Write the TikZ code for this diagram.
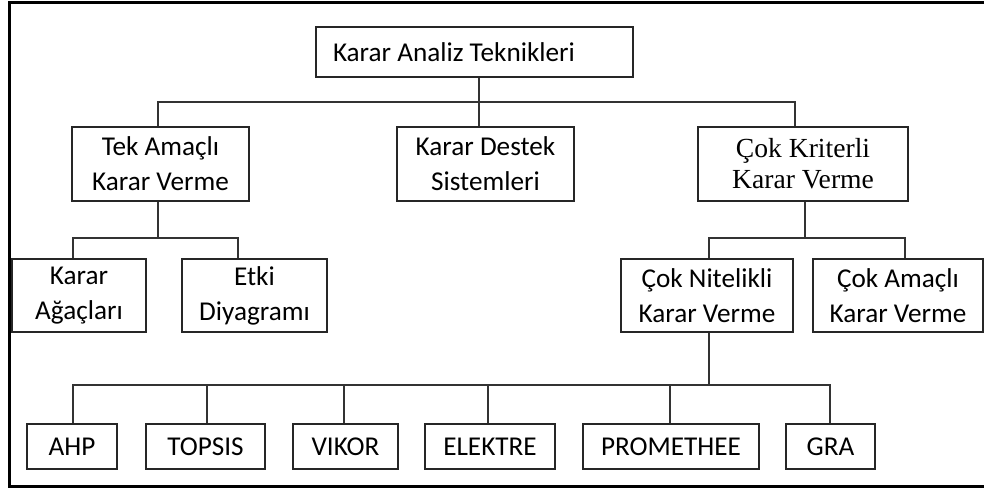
\documentclass[tikz,border=0pt]{standalone}
\usepackage{fontspec}
\setmainfont{Carlito}
\newfontfamily\timesfont{Liberation Serif}
\tikzset{
  box/.style={draw=black!85, line width=2.4pt, align=center, inner sep=0pt,
    font=\fontsize{27.2}{35}\selectfont},
  leaf/.style={box, minimum height=45},
  link/.style={draw=black!80, line width=2.2pt}
}
\begin{document}
\begin{tikzpicture}[x=1pt, y=-1pt]
    \useasboundingbox (0,0) rectangle (984,488);
    % frame
    \draw[line width=3pt] (986,2) -- (9,2) -- (9,486) -- (986,486);
    % top levels
    \node[box, inner xsep=17pt, text width=283pt, align=flush left, minimum height=50] (root) at (474.5,52) {Karar Analiz Teknikleri};
    \node[box, minimum width=177, minimum height=74] (tek) at (160.5,164) {Tek Amaçlı\\Karar Verme};
    \node[box, minimum width=177, minimum height=74] (destek) at (485.5,164) {Karar Destek\\Sistemleri};
    \node[box, minimum width=210, minimum height=74, font=\timesfont\fontsize{27.6}{31}\selectfont] (cok) at (803,164) {Çok Kriterli\\Karar Verme};
    \node[box, minimum width=134, minimum height=73] (agac) at (79,295.5) {Karar\\Ağaçları};
    \node[box, minimum width=145, minimum height=73] (etki) at (254.5,295.5) {Etki\\Diyagramı};
    \node[box, minimum width=172, minimum height=73] (nitelik) at (707,295.5) {Çok Nitelikli\\Karar Verme};
    \node[box, minimum width=170, minimum height=73] (amacli) at (898,295.5) {Çok Amaçlı\\Karar Verme};
    % methods
    \node[leaf, minimum width=90] (ahp) at (72,446.5) {AHP};
    \node[leaf, minimum width=119] (topsis) at (205.5,446.5) {TOPSIS};
    \node[leaf, minimum width=105] (vikor) at (345.5,446.5) {VIKOR};
    \node[leaf, minimum width=130] (elektre) at (490,446.5) {ELEKTRE};
    \node[leaf, minimum width=176] (promethee) at (671,446.5) {PROMETHEE};
    \node[leaf, minimum width=89] (gra) at (830.5,446.5) {GRA};
    % buses
    \coordinate (b1) at (479,102);
    \coordinate (b2) at (158,238);
    \coordinate (b3) at (805,238);
    \coordinate (b4) at (709,385);
    \draw[link] (root.south -| b1) -- (destek.north -| b1);
    \draw[link] (tek.north -| b2) |- (b1) -| (cok.north -| 795,0);
    \draw[link] (tek.south -| b2) -- (b2);
    \draw[link] (agac.north -| 73,0) |- (b2) -| (etki.north -| 238,0);
    \draw[link] (cok.south -| b3) -- (b3);
    \draw[link] (nitelik.north -| 709,0) |- (b3) -| (amacli.north -| 905,0);
    \draw[link] (nitelik.south -| b4) -- (b4);
    \draw[link] (ahp.north -| 73,0) |- (b4) -| (gra.north -| 830,0);
    \foreach \n/\x in {topsis/207, vikor/344, elektre/488, promethee/670}
      \draw[link] (\n.north -| \x,0) -- (\x,385);
\end{tikzpicture}
\end{document}
